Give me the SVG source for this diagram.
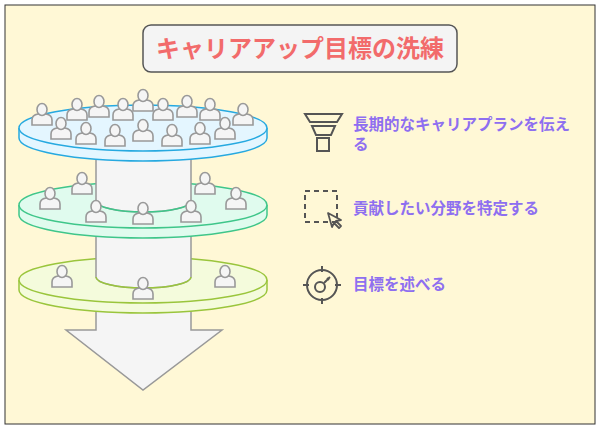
<svg xmlns="http://www.w3.org/2000/svg" xmlns:xlink="http://www.w3.org/1999/xlink" width="600" height="429" viewBox="0 0 600 429">
<style>
.lbl{font-family:"Noto Sans CJK JP","Noto Sans",sans-serif;font-size:15.5px;font-weight:bold;fill:#8e6ff0}
.ic{fill:none;stroke:#555;stroke-width:2}
.cyl{fill:#f5f5f5;stroke:#999;stroke-width:1.5}
</style>
<defs>
<symbol id="p" viewBox="-11 0 22 23" width="22" height="23" overflow="visible">
<g fill="#f5f5f5" stroke="#999" stroke-width="1.6">
<path d="M-10,22 v-5 q0,-5 6,-6 h8 q6,1 6,6 v5 z"/>
<ellipse cx="0" cy="6.5" rx="5" ry="6"/>
</g>
</symbol>
</defs>
<rect x="5" y="5" width="590" height="419" fill="#fff8d6" stroke="#333" stroke-width="1"/>
<g id="title">
<rect x="143" y="25" width="314" height="47" rx="8" fill="#f4f4f4" stroke="#555" stroke-width="1.5"/>
<text x="300" y="57" text-anchor="middle" font-family="Noto Sans CJK JP,sans-serif" font-size="24" font-weight="bold" fill="#f26b6b">キャリアアップ目標の洗練</text>
</g>
<g id="arrow">
<path d="M96,300 V330 H66 L143,390 L222,330 H191 V300 Z" fill="#f5f5f5" stroke="#999" stroke-width="1.5"/>
</g>
<g id="layer3">
<path d="M19,280 v10 a124,23 0 0 0 248,0 v-10" fill="#f4fbdc" stroke="#9ac53c" stroke-width="1.5"/>
<ellipse cx="143" cy="280" rx="124" ry="23" fill="#f4fbdc" stroke="#9ac53c" stroke-width="1.5"/>
<path d="M96,225 V277 a47.5,11 0 0 0 95,0 V225" class="cyl"/>
<path d="M96,277 a47.5,11 0 0 0 95,0" fill="none" stroke="#9ac53c" stroke-width="1.5"/>
</g>
<g id="layer2">
<path d="M19,205 v10 a124,23 0 0 0 248,0 v-10" fill="#e0fbee" stroke="#3fc68a" stroke-width="1.5"/>
<ellipse cx="143" cy="205" rx="124" ry="23" fill="#e0fbee" stroke="#3fc68a" stroke-width="1.5"/>
<path d="M96,150 V201 a47.5,11 0 0 0 95,0 V150" class="cyl"/>
<path d="M96,201 a47.5,11 0 0 0 95,0" fill="none" stroke="#3fc68a" stroke-width="1.5"/>
</g>
<g id="layer1">
<path d="M19,128 v10 a124,23 0 0 0 248,0 v-10" fill="#e4f6ff" stroke="#26a9e0" stroke-width="1.5"/>
<ellipse cx="143" cy="128" rx="124" ry="23" fill="#e4f6ff" stroke="#26a9e0" stroke-width="1.5"/>
</g>
<g id="people">
<use href="#p" x="31" y="103"/><use href="#p" x="66" y="98"/><use href="#p" x="88" y="95"/><use href="#p" x="112" y="98"/><use href="#p" x="132" y="89"/><use href="#p" x="152" y="98"/><use href="#p" x="176" y="95"/><use href="#p" x="199" y="98"/><use href="#p" x="232" y="103"/>
<use href="#p" x="50" y="117"/><use href="#p" x="75" y="122"/><use href="#p" x="104" y="124"/><use href="#p" x="132" y="119"/><use href="#p" x="161" y="124"/><use href="#p" x="189" y="122"/><use href="#p" x="214" y="117"/>
<use href="#p" x="71" y="172"/><use href="#p" x="194" y="172"/><use href="#p" x="39" y="187"/><use href="#p" x="225" y="187"/><use href="#p" x="85" y="200"/><use href="#p" x="132" y="202"/><use href="#p" x="180" y="200"/>
<use href="#p" x="51" y="265"/><use href="#p" x="214" y="265"/><use href="#p" x="132" y="277"/>
</g>
<g id="item1">
<path class="ic" d="M305,114 H342 L337,122 H310 Z M312,126 H335 L331,135 H316 Z"/>
<rect class="ic" x="317" y="138" width="12" height="13"/>
<text class="lbl" x="353" y="130">長期的なキャリアプランを伝え</text>
<text class="lbl" x="353" y="150">る</text>
</g>
<g id="item2">
<rect class="ic" x="305" y="191" width="32" height="31" stroke-dasharray="5,4"/>
<path d="M328,213 L341,220 L336,221 L341,226 L339,228 L334,223 L332,227 Z" fill="none" stroke="#555" stroke-width="1.8" stroke-linejoin="round"/>
<text class="lbl" x="353" y="214">貢献したい分野を特定する</text>
</g>
<g id="item3">
<circle class="ic" cx="322" cy="285" r="15"/>
<path class="ic" d="M322,266 v6 M322,298 v6 M303,285 h6 M335,285 h6"/>
<circle class="ic" cx="320" cy="287" r="5"/>
<path class="ic" d="M324,283 L330,277 M327,278 l2,2"/>
<text class="lbl" x="353" y="290">目標を述べる</text>
</g>
</svg>
